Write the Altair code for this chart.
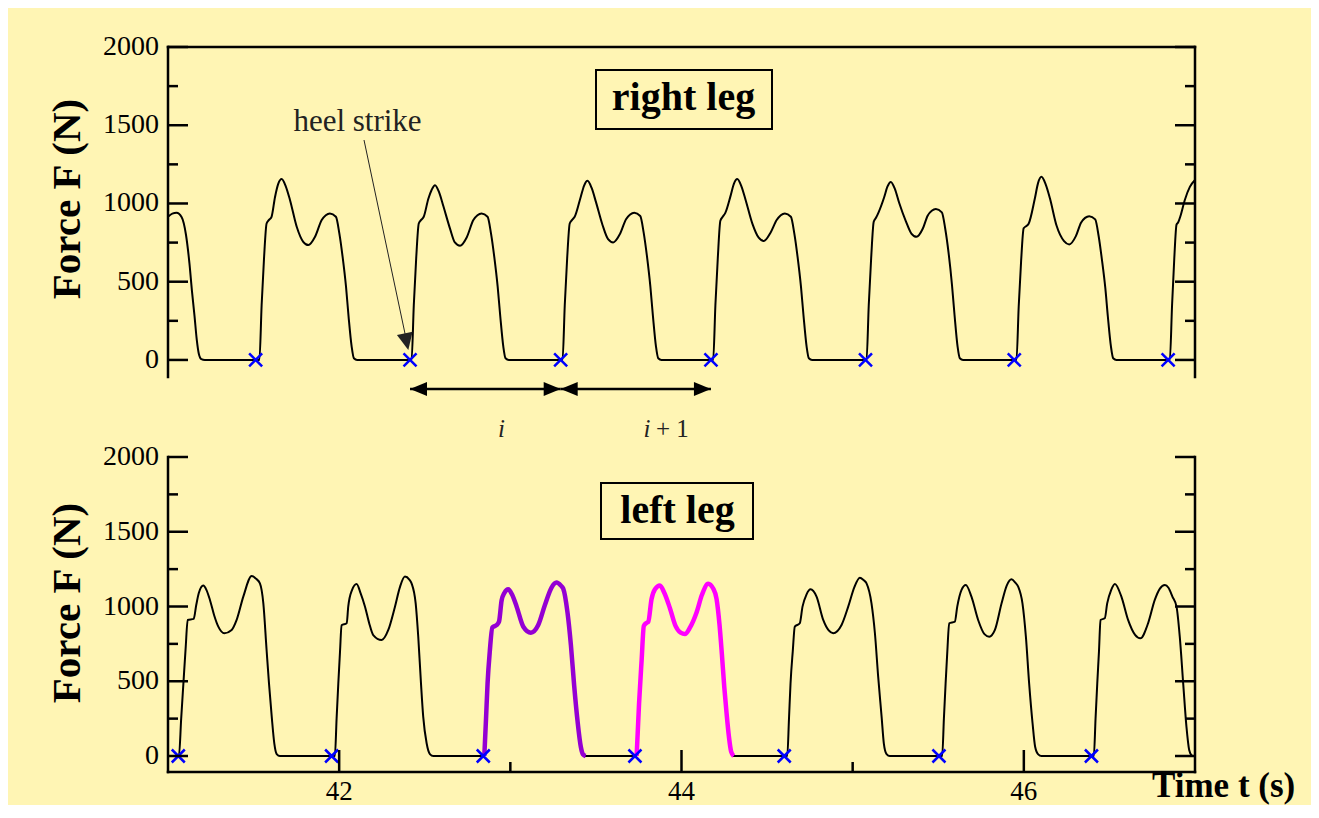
import altair as alt
import pandas as pd

# ---------------- data ----------------
# right leg (upper panel): time (s) and force (N) per step
R0_T = [41.000, 41.025, 41.050, 41.080, 41.105, 41.125, 41.140, 41.155, 41.168, 41.180, 41.195, 41.215]
R0_F = [915, 935, 940, 912, 800, 620, 440, 280, 130, 40, 5, 0]
R1_T = [41.534, 41.547, 41.561, 41.576, 41.590, 41.605, 41.625, 41.644, 41.664, 41.688, 41.713, 41.752, 41.790,
        41.820, 41.859, 41.898, 41.922, 41.946, 41.981, 42.001, 42.020, 42.040, 42.055, 42.073, 42.086, 42.105]
R1_F = [0, 350, 650, 872, 895, 915, 1040, 1125, 1156, 1110, 1021, 851, 755,
        734, 787, 894, 925, 936, 915, 809, 660, 468, 277, 85, 11, 0]
R2_T = [42.423, 42.436, 42.450, 42.465, 42.479, 42.494, 42.521, 42.540, 42.560, 42.584, 42.609, 42.648, 42.676,
        42.706, 42.745, 42.784, 42.808, 42.832, 42.867, 42.887, 42.906, 42.926, 42.941, 42.959, 42.972, 42.991]
R2_F = [0, 350, 650, 872, 895, 915, 1030, 1086, 1117, 1071, 982, 838, 751,
        730, 783, 894, 925, 936, 915, 809, 660, 468, 281, 85, 11, 0]
R3_T = [43.305, 43.318, 43.332, 43.347, 43.361, 43.376, 43.412, 43.431, 43.451, 43.475, 43.500, 43.539, 43.571,
        43.601, 43.640, 43.676, 43.700, 43.724, 43.759, 43.779, 43.798, 43.818, 43.833, 43.851, 43.864, 43.883]
R3_F = [0, 350, 650, 872, 895, 915, 1045, 1114, 1145, 1099, 1010, 861, 772,
        751, 804, 899, 930, 941, 920, 814, 665, 470, 282, 85, 11, 0]
R4_T = [44.185, 44.198, 44.212, 44.227, 44.241, 44.256, 44.287, 44.306, 44.326, 44.350, 44.375, 44.414, 44.451,
        44.481, 44.520, 44.556, 44.580, 44.604, 44.639, 44.659, 44.678, 44.698, 44.713, 44.731, 44.744, 44.763]
R4_F = [0, 350, 650, 890, 915, 940, 1050, 1125, 1156, 1110, 1021, 871, 781,
        760, 813, 894, 925, 936, 915, 809, 660, 468, 281, 85, 11, 0]
R5_T = [45.081, 45.094, 45.108, 45.123, 45.137, 45.152, 45.184, 45.203, 45.223, 45.247, 45.272, 45.311, 45.343,
        45.373, 45.410, 45.438, 45.462, 45.486, 45.521, 45.541, 45.560, 45.580, 45.595, 45.613, 45.626, 45.645]
R5_F = [0, 350, 650, 883, 910, 945, 1040, 1107, 1138, 1092, 1003, 886, 808,
        787, 840, 922, 953, 964, 943, 837, 688, 482, 289, 85, 11, 0]
R6_T = [45.957, 45.970, 45.984, 45.999, 46.013, 46.028, 46.064, 46.083, 46.103, 46.127, 46.152, 46.191, 46.235,
        46.265, 46.304, 46.334, 46.358, 46.382, 46.417, 46.437, 46.456, 46.476, 46.491, 46.509, 46.522, 46.541]
R6_F = [0, 340, 630, 841, 855, 870, 1030, 1130, 1170, 1124, 1035, 859, 759,
        738, 791, 877, 908, 919, 898, 792, 643, 460, 276, 85, 11, 0]
R7_T = [46.853, 46.866, 46.879, 46.892, 46.902, 46.915, 46.940, 46.970, 47.000]
R7_F = [0, 350, 650, 865, 880, 920, 1021, 1106, 1150]

# left leg (lower panel)
L0_T = [41.000, 41.040]
L0_F = [0, 0]
L1_T = [41.064, 41.077, 41.090, 41.103, 41.115, 41.150, 41.165, 41.180, 41.206, 41.225, 41.245, 41.270, 41.294, 41.329,
        41.372, 41.401, 41.440, 41.489, 41.515, 41.537, 41.557, 41.576, 41.590, 41.606, 41.621, 41.635, 41.654]
L1_F = [0, 250, 486, 720, 910, 917, 1010, 1090, 1140, 1110, 1044, 940, 865, 821,
        843, 910, 1066, 1204, 1185, 1155, 1021, 709, 486, 263, 85, 13, 0]
L2_T = [41.975, 41.985, 41.995, 42.005, 42.014, 42.044, 42.053, 42.075, 42.102, 42.125, 42.151, 42.175, 42.199, 42.248,
        42.287, 42.326, 42.355, 42.384, 42.410, 42.423, 42.447, 42.462, 42.478, 42.491, 42.511, 42.530, 42.550]
L2_F = [0, 250, 486, 700, 875, 888, 999, 1110, 1151, 1090, 999, 890, 809, 776,
        843, 999, 1130, 1200, 1180, 1155, 1021, 798, 486, 263, 85, 13, 0]
L3_T = [42.848, 42.858, 42.867, 42.880, 42.895, 42.920, 42.934, 42.949, 42.965, 42.988, 43.010, 43.037, 43.076, 43.120,
        43.163, 43.202, 43.240, 43.270, 43.295, 43.309, 43.334, 43.354, 43.373, 43.393, 43.412, 43.425, 43.440]
L3_F = [0, 250, 486, 700, 860, 876, 900, 1040, 1090, 1115, 1080, 999, 865, 825,
        876, 1010, 1125, 1160, 1140, 1120, 960, 740, 470, 230, 60, 10, 0]
L4_T = [43.738, 43.752, 43.767, 43.780, 43.795, 43.806, 43.825, 43.845, 43.874, 43.900, 43.932, 43.965, 43.995, 44.020,
        44.050, 44.088, 44.120, 44.156, 44.185, 44.205, 44.222, 44.236, 44.250, 44.263, 44.277, 44.290, 44.305]
L4_F = [0, 350, 640, 870, 890, 898, 1050, 1115, 1140, 1090, 990, 870, 825, 816,
        860, 960, 1080, 1152, 1120, 1050, 880, 680, 460, 290, 130, 30, 0]
L5_T = [44.618, 44.628, 44.637, 44.650, 44.662, 44.691, 44.707, 44.730, 44.754, 44.789, 44.828, 44.860, 44.886,
        44.935, 44.974, 45.010, 45.042, 45.065, 45.081, 45.110, 45.130, 45.149, 45.169, 45.182, 45.198, 45.217]
L5_F = [0, 250, 486, 700, 865, 888, 999, 1080, 1115, 1066, 910, 840, 821,
        876, 999, 1130, 1193, 1175, 1155, 1021, 821, 531, 263, 85, 13, 0]
L6_T = [45.523, 45.533, 45.543, 45.553, 45.564, 45.597, 45.611, 45.636, 45.661, 45.694, 45.733, 45.770, 45.798,
        45.831, 45.870, 45.900, 45.928, 45.950, 45.967, 45.992, 46.012, 46.031, 46.051, 46.066, 46.084, 46.103]
L6_F = [0, 250, 486, 700, 888, 899, 999, 1111, 1144, 1066, 910, 815, 798,
        843, 1021, 1140, 1182, 1160, 1133, 1021, 798, 486, 219, 62, 11, 0]
L7_T = [46.409, 46.419, 46.429, 46.439, 46.448, 46.473, 46.487, 46.510, 46.532, 46.570, 46.609, 46.650, 46.681, 46.726,
        46.765, 46.795, 46.824, 46.845, 46.868, 46.892, 46.911, 46.931, 46.950, 46.966, 46.980, 46.990, 47.000]
L7_F = [0, 250, 486, 700, 910, 921, 1021, 1110, 1151, 1066, 910, 810, 787, 888,
        1044, 1120, 1144, 1125, 1066, 999, 798, 486, 196, 40, 5, 0, 0]

# heel strikes (blue crosses)
HS_RIGHT = [41.512, 42.414, 43.294, 44.172, 45.075, 45.944, 46.843]
HS_LEFT = [41.060, 41.956, 42.842, 43.728, 44.600, 45.504, 46.395]

# ticks
Y_MAJOR = [0, 500, 1000, 1500, 2000]
Y_MINOR = [250, 750, 1250, 1750]
X_MAJOR = [42, 44, 46]
X_MINOR = [43, 45]

# ---------------- layout / style ----------------
BG = "#FFF5B4"
FONT = "Liberation Serif"
W, H = 1027, 725
TOP_H = 330
BOT_TOP = 410
XS = alt.Scale(domain=[41, 47], nice=False, zero=False)
TOPS = alt.Scale(domain=[-109, 2000], range=[TOP_H, 0], nice=False, zero=False)
BOTS = alt.Scale(domain=[-107, 2000], range=[H, BOT_TOP], nice=False, zero=False)
LW = 2.5


def xq(f):
    return alt.X(f, type="quantitative", scale=XS, axis=None)


def yq(f, s):
    return alt.Y(f, type="quantitative", scale=s, axis=None)


right_df = pd.DataFrame({
    "t": R0_T + R1_T + R2_T + R3_T + R4_T + R5_T + R6_T + R7_T,
    "F": R0_F + R1_F + R2_F + R3_F + R4_F + R5_F + R6_F + R7_F,
})
left_df = pd.DataFrame({
    "t": L0_T + L1_T + L2_T + L3_T + L4_T + L5_T + L6_T + L7_T,
    "F": L0_F + L1_F + L2_F + L3_F + L4_F + L5_F + L6_F + L7_F,
})
step_i_df = pd.DataFrame({"t": L3_T, "F": L3_F})
step_i1_df = pd.DataFrame({"t": L4_T, "F": L4_F})
hs_r_df = pd.DataFrame({"t": HS_RIGHT, "F": [0] * len(HS_RIGHT)})
hs_l_df = pd.DataFrame({"t": HS_LEFT, "F": [0] * len(HS_LEFT)})
ymaj = pd.DataFrame({"v": Y_MAJOR, "lab": [str(v) for v in Y_MAJOR]})
ymin = pd.DataFrame({"v": Y_MINOR})
xmaj = pd.DataFrame({"v": X_MAJOR, "lab": [str(v) for v in X_MAJOR]})
xmin = pd.DataFrame({"v": X_MINOR})
arrows_df = pd.DataFrame({"a": [HS_RIGHT[1], HS_RIGHT[2]], "b": [HS_RIGHT[2], HS_RIGHT[3]]})
one = pd.DataFrame({"k": [0]})

layers = []

# force curves
layers.append(alt.Chart(right_df).mark_line(color="black", strokeWidth=2, interpolate="monotone").encode(
    x=xq("t"), y=yq("F", TOPS), order="t:Q"))
layers.append(alt.Chart(left_df).mark_line(color="black", strokeWidth=2, interpolate="monotone").encode(
    x=xq("t"), y=yq("F", BOTS), order="t:Q"))
layers.append(alt.Chart(step_i_df).mark_line(color="#9400D3", strokeWidth=4.5, interpolate="monotone").encode(
    x=xq("t"), y=yq("F", BOTS), order="t:Q"))
layers.append(alt.Chart(step_i1_df).mark_line(color="#FF00FF", strokeWidth=4.5, interpolate="monotone").encode(
    x=xq("t"), y=yq("F", BOTS), order="t:Q"))

# heel strike markers
XSHAPE = "M-1,-1L1,1M-1,1L1,-1"
for df, s in [(hs_r_df, TOPS), (hs_l_df, BOTS)]:
    layers.append(alt.Chart(df).mark_point(shape=XSHAPE, filled=False, color="#0000FF", strokeWidth=2.5,
                                           size=169, opacity=1).encode(x=xq("t"), y=yq("F", s)))


# frames
def rule(**enc):
    return alt.Chart(one).mark_rule(color="black", strokeWidth=LW, strokeCap="square").encode(**enc)


layers.append(rule(x=alt.value(0), x2=alt.value(W), y=alt.value(0)))
layers.append(rule(x=alt.value(0), y=alt.value(0), y2=alt.value(TOP_H)))
layers.append(rule(x=alt.value(W), y=alt.value(0), y2=alt.value(TOP_H)))
layers.append(rule(x=alt.value(0), y=alt.value(BOT_TOP), y2=alt.value(H)))
layers.append(rule(x=alt.value(W), y=alt.value(BOT_TOP), y2=alt.value(H)))
layers.append(rule(x=alt.value(0), x2=alt.value(W), y=alt.value(H)))

# y ticks (inward) and labels
for s in (TOPS, BOTS):
    for df, ln in [(ymaj, 20), (ymin, 10)]:
        layers.append(alt.Chart(df).mark_rule(color="black", strokeWidth=LW).encode(
            y=yq("v", s), x=alt.value(0), x2=alt.value(ln)))
        layers.append(alt.Chart(df).mark_rule(color="black", strokeWidth=LW).encode(
            y=yq("v", s), x=alt.value(W - ln), x2=alt.value(W)))
    layers.append(alt.Chart(ymaj).mark_text(align="right", baseline="middle", font=FONT, fontSize=28,
                                            color="black").encode(
        y=yq("v", s), x=alt.value(-9), text="lab:N"))

# x ticks and labels (lower panel)
for df, ln in [(xmaj, 22), (xmin, 10)]:
    layers.append(alt.Chart(df).mark_rule(color="black", strokeWidth=LW).encode(
        x=xq("v"), y=alt.value(H - ln), y2=alt.value(H)))
layers.append(alt.Chart(xmaj).mark_text(align="center", baseline="alphabetic", font=FONT, fontSize=27,
                                        color="black").encode(x=xq("v"), y=alt.value(753), text="lab:N"))

# axis titles
for yy in (152, 556):
    layers.append(alt.Chart(one).mark_text(angle=270, align="center", baseline="alphabetic", font=FONT,
                                           fontSize=41, fontWeight="bold", color="black",
                                           text="Force F (N)").encode(x=alt.value(-88), y=alt.value(yy)))
layers.append(alt.Chart(one).mark_text(align="left", baseline="alphabetic", font=FONT, fontSize=35,
                                       fontWeight="bold", color="black", text="Time t (s)").encode(
    x=alt.value(984), y=alt.value(750)))

# leg boxes
for (x1, x2, y1, y2, cx, by, label) in [(428, 604, 23, 82, 515.5, 63, "right leg"),
                                         (433, 585, 436, 492, 509.5, 476, "left leg")]:
    layers.append(alt.Chart(one).mark_rect(fill=BG, stroke="black", strokeWidth=2).encode(
        x=alt.value(x1), x2=alt.value(x2), y=alt.value(y1), y2=alt.value(y2)))
    layers.append(alt.Chart(one).mark_text(align="center", baseline="alphabetic", font=FONT, fontSize=40,
                                           fontWeight="bold", color="black", text=label).encode(
        x=alt.value(cx), y=alt.value(by)))

# heel strike annotation
layers.append(alt.Chart(one).mark_text(align="center", baseline="alphabetic", font=FONT, fontSize=31,
                                       color="#222222", text="heel strike").encode(
    x=alt.value(189.5), y=alt.value(83.5)))
layers.append(alt.Chart(one).mark_rule(color="#222222", strokeWidth=1).encode(
    x=alt.value(196), y=alt.value(93), x2=alt.value(239), y2=alt.value(296)))
layers.append(alt.Chart(one).mark_point(shape="M0,0L-0.47,-1L0.47,-1Z", filled=True, color="#222222",
                                        size=1156, angle=348, opacity=1).encode(
    x=alt.value(240.3), y=alt.value(303)))

# stride arrows i, i+1
AY = 342
layers.append(alt.Chart(arrows_df).mark_rule(color="black", strokeWidth=LW).encode(
    x=xq("a"), x2="b:Q", y=alt.value(AY)))
layers.append(alt.Chart(arrows_df).mark_point(shape="M0,0L1,-0.41L1,0.41Z", filled=True, color="black",
                                              size=1156, opacity=1).encode(x=xq("a"), y=alt.value(AY)))
layers.append(alt.Chart(arrows_df).mark_point(shape="M0,0L-1,-0.41L-1,0.41Z", filled=True, color="black",
                                              size=1156, opacity=1).encode(x=xq("b"), y=alt.value(AY)))
layers.append(alt.Chart(one).mark_text(align="center", baseline="alphabetic", font=FONT, fontSize=25,
                                       fontStyle="italic", color="#222222", text="i").encode(
    x=alt.value(333.5), y=alt.value(390)))
layers.append(alt.Chart(one).mark_text(align="center", baseline="alphabetic", font=FONT, fontSize=25,
                                       fontStyle="italic", color="#222222", text="i").encode(
    x=alt.value(479), y=alt.value(390)))
layers.append(alt.Chart(one).mark_text(align="left", baseline="alphabetic", font=FONT, fontSize=25,
                                       color="#222222", text="+ 1").encode(
    x=alt.value(488), y=alt.value(390)))

chart = alt.layer(*layers).resolve_scale(y="independent").properties(
    width=W, height=H, background=BG,
    padding={"left": 160, "top": 39, "right": 116, "bottom": 33},
    autosize=alt.AutoSizeParams(type="none"),
).configure_view(strokeWidth=0)

chart.save("out.html", embed_options={"renderer": "svg", "actions": False})
